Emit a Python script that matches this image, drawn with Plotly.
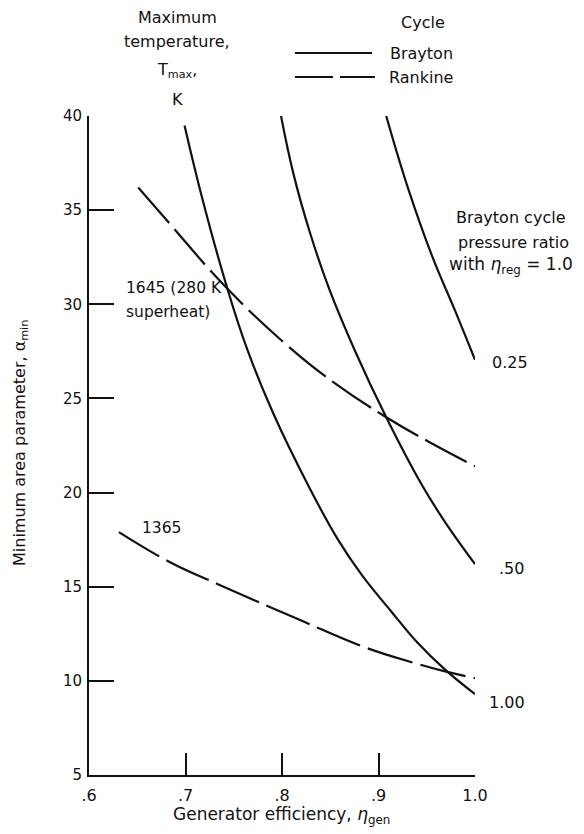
import plotly.graph_objects as go

# ---- data: minimum area parameter vs generator efficiency ----
# Brayton cycle, pressure ratio 0.25 (regenerator effectiveness 1.0)
brayton_025_eff = [0.908, 0.931, 0.956, 0.979, 1.000]
brayton_025_alpha = [40.0, 36.1, 32.5, 29.7, 27.05]

# Brayton cycle, pressure ratio 0.50
brayton_050_eff = [0.799, 0.812, 0.829, 0.849, 0.875, 0.908, 0.945, 0.972, 1.000]
brayton_050_alpha = [40.0, 36.9, 33.8, 30.8, 27.6, 24.0, 20.4, 18.2, 16.2]

# Brayton cycle, pressure ratio 1.00
brayton_100_eff = [0.699, 0.718, 0.743, 0.764, 0.791, 0.828, 0.858, 0.883,
                   0.913, 0.940, 0.969, 1.000]
brayton_100_alpha = [39.5, 35.5, 30.9, 27.6, 24.2, 20.3, 17.5, 15.6,
                     13.7, 12.05, 10.6, 9.3]

# Rankine cycle, Tmax = 1645 K (280 K superheat)
rankine_1645_eff = [0.651, 0.685, 0.742, 0.808, 0.855, 0.908, 0.952, 1.000]
rankine_1645_alpha = [36.2, 34.2, 30.9, 27.7, 25.8, 24.0, 22.7, 21.4]

# Rankine cycle, Tmax = 1365 K
rankine_1365_eff = [0.631, 0.684, 0.733, 0.820, 0.885, 0.937, 0.969, 1.000]
rankine_1365_alpha = [17.9, 16.3, 15.15, 13.2, 11.8, 10.95, 10.5, 10.15]

x_tickvals = [0.6, 0.7, 0.8, 0.9, 1.0]
x_ticktext = [".6", ".7", ".8", ".9", "1.0"]
y_tickvals = [5, 10, 15, 20, 25, 30, 35, 40]

# ---- layout geometry (pixels) ----
W, H = 584, 834
ML, MR, MT, MB = 89, 109, 116, 59
PW, PH = W - ML - MR, H - MT - MB

FONT = "DejaVu Sans, Verdana, sans-serif"
INK = "#111111"


def to_paper(px, py):
    """Pixel position on the page -> paper coordinates."""
    return (px - ML) / PW, (H - MB - py) / PH


fig = go.Figure()

solid = dict(color=INK, width=2.2)
dashed = dict(color=INK, width=2.2, dash="47px,8px")

for ex, ay in [(brayton_025_eff, brayton_025_alpha),
               (brayton_050_eff, brayton_050_alpha),
               (brayton_100_eff, brayton_100_alpha)]:
    fig.add_trace(go.Scatter(x=ex, y=ay, mode="lines",
                             line=dict(shape="spline", smoothing=1.2, **solid),
                             showlegend=False, hoverinfo="skip"))

for ex, ay in [(rankine_1645_eff, rankine_1645_alpha),
               (rankine_1365_eff, rankine_1365_alpha)]:
    fig.add_trace(go.Scatter(x=ex, y=ay, mode="lines",
                             line=dict(shape="spline", smoothing=1.2, **dashed),
                             showlegend=False, hoverinfo="skip"))

annotations = []


def text(s, px, py, size=16, anchor="center", angle=0):
    xp, yp = to_paper(px, py)
    annotations.append(dict(text=s, x=xp, y=yp, xref="paper", yref="paper",
                            xanchor=anchor, yanchor="middle", showarrow=False,
                            textangle=angle, font=dict(family=FONT, size=size, color=INK)))


# temperature heading
text("Maximum", 177, 18)
text("temperature,", 177, 42)
text("T<sub>max</sub>,", 177, 70)
text("K", 177, 99)

# cycle key
text("Cycle", 423, 23)
text("Brayton", 388, 53, anchor="left")
text("Rankine", 387, 77, anchor="left")

# pressure ratio heading
text("Brayton cycle", 510, 217)
text("pressure ratio", 513, 242)
text("with <i>η</i><sub>reg</sub> = 1.0", 447, 265, size=17, anchor="left")

# curve labels
text("0.25", 490, 362, anchor="left")
text(".50", 497, 568, anchor="left")
text("1.00", 487, 702, anchor="left")
text("1645 (280 K", 124, 288, size=15.5, anchor="left")
text("superheat)", 124, 312, size=15.5, anchor="left")
text("1365", 140, 528, size=15.5, anchor="left")

# axis titles
text("Generator efficiency, <i>η</i><sub>gen</sub>", 281, 815, size=17)
text("Minimum area parameter, α<sub>min</sub>", 20, 443, angle=-90)

# key line samples
shapes = []
for (x0, x1, py, dash) in [(295, 372, 53, "solid"), (295, 375, 77, "38px,7px")]:
    a0, b = to_paper(x0, py)
    a1, _ = to_paper(x1, py)
    shapes.append(dict(type="line", xref="paper", yref="paper", x0=a0, x1=a1, y0=b, y1=b,
                       line=dict(color=INK, width=2.2, dash=dash)))

axis_common = dict(showline=True, linecolor=INK, linewidth=2, ticks="inside",
                   tickcolor=INK, tickwidth=2, showgrid=False, zeroline=False,
                   tickfont=dict(family=FONT, size=16, color=INK))

fig.update_layout(
    width=W, height=H, autosize=False,
    margin=dict(l=ML, r=MR, t=MT, b=MB, pad=0),
    paper_bgcolor="white", plot_bgcolor="white",
    xaxis=dict(range=[0.6, 1.0], tickvals=x_tickvals, ticktext=x_ticktext,
               ticklen=22, ticklabelstandoff=5, **axis_common),
    yaxis=dict(range=[5, 40], tickvals=y_tickvals, ticklen=25, ticklabelstandoff=2,
               **axis_common),
    annotations=annotations,
    shapes=shapes,
)
fig.update_yaxes(tickfont_size=15)

fig.write_html("out.html")
